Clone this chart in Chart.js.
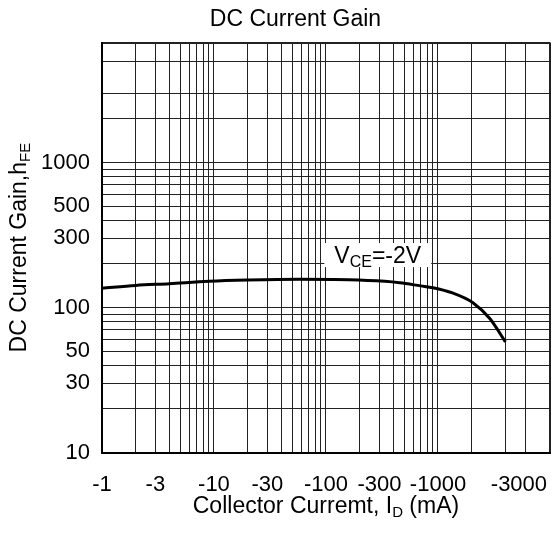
<!DOCTYPE html>
<html>
<head>
<meta charset="utf-8">
<script src="https://cdn.jsdelivr.net/npm/chart.js"></script>
<style>
  html, body { margin: 0; padding: 0; background: #fff; }
  #wrap { width: 552px; height: 533px; }
</style>
</head>
<body>
<div id="wrap"><canvas id="gainChart"></canvas></div>
<script>
  // values (|Ic| in mA, hFE)
  const collectorCurrent = [1, 2, 4, 9, 20, 58, 160, 335, 456, 700, 900, 1350, 2050, 2900, 4000];
  const dcGain = [136, 142, 146, 151.5, 154.5, 156.5, 155.5, 151.5, 148, 141, 137, 126, 108, 84, 58];

  const xLabels = [1, 3, 10, 30, 100, 300, 1000, 3000];
  const xGrid = [1, 2, 3, 4, 5, 6, 7, 8, 9,
                 10, 20, 30, 40, 50, 60, 70, 80, 90,
                 100, 200, 300, 400, 500, 600, 700, 800, 900,
                 1000, 2000, 4000, 6000, 10000];
  const yLabels = [10, 30, 50, 100, 300, 500, 1000];
  const yGrid = [10, 20, 30, 40, 50, 60, 70, 80, 90,
                 100, 200, 300, 400, 500, 600, 700, 800, 900,
                 1000, 2000, 3000, 5000, 6700];
  const xMin = 1, xMax = 10000, yMin = 10, yMax = 6700;

  const curveLabel = { x: 290, y: 230 };
  const family = "'Liberation Sans', Arial, sans-serif";
  Chart.defaults.font.family = family;
  Chart.defaults.color = '#000';

  // draws a run of text pieces (some as subscripts) centred on x
  function richText(ctx, parts, x, y) {
    let total = 0;
    parts.forEach(p => { ctx.font = p.size + 'px ' + family; p.w = ctx.measureText(p.t).width; total += p.w; });
    let cx = x - total / 2;
    parts.forEach(p => {
      ctx.font = p.size + 'px ' + family;
      ctx.fillText(p.t, cx, y + (p.dy || 0));
      cx += p.w;
    });
    return total;
  }

  const labelsPlugin = {
    id: 'labels',
    afterDatasetsDraw(chart) {
      const { ctx, chartArea, scales } = chart;
      ctx.save();
      ctx.fillStyle = '#000';
      ctx.textBaseline = 'alphabetic';
      ctx.textAlign = 'left';

      // V_CE box
      const lx = scales.x.getPixelForValue(curveLabel.x);
      const ly = scales.y.getPixelForValue(curveLabel.y);
      const parts = [{ t: 'V', size: 23 }, { t: 'CE', size: 16, dy: 4 }, { t: '=-2V', size: 23 }];
      let w = 0;
      parts.forEach(p => { ctx.font = p.size + 'px ' + family; w += ctx.measureText(p.t).width; });
      ctx.fillStyle = '#fff';
      ctx.fillRect(lx - w / 2 - 10, ly - 12, w + 20, 24);
      ctx.fillStyle = '#000';
      richText(ctx, parts, lx, ly + 8);

      // x axis title
      const midX = (chartArea.left + chartArea.right) / 2;
      richText(ctx, [
        { t: 'Collector Curremt, I', size: 23 },
        { t: 'D', size: 15, dy: 4 },
        { t: ' (mA)', size: 23 }
      ], midX, chartArea.bottom + 60);

      // y axis title, rotated
      const midY = (chartArea.top + chartArea.bottom) / 2;
      ctx.translate(chartArea.left - 76, midY);
      ctx.rotate(-Math.PI / 2);
      richText(ctx, [
        { t: 'DC Current Gain,h', size: 23 },
        { t: 'FE', size: 15, dy: 4 }
      ], 0, 0);
      ctx.restore();
    }
  };

  const xTicks = Array.from(new Set(xGrid.concat(xLabels))).sort((a, b) => a - b);

  // the last label sits further right in the original, clear of -1000
  const xTickText = v => {
    if (!xLabels.includes(v)) return '';
    return v === xLabels[xLabels.length - 1] ? '         -' + v : '-' + v;
  };

  new Chart(document.getElementById('gainChart'), {
    type: 'line',
    data: {
      datasets: [{
        data: collectorCurrent.map((c, i) => ({ x: c, y: dcGain[i] })),
        borderColor: '#000',
        borderWidth: 3,
        pointRadius: 0,
        cubicInterpolationMode: 'monotone',
        fill: false
      }]
    },
    options: {
      responsive: true,
      maintainAspectRatio: false,
      animation: false,
      layout: { padding: { left: 41, right: 2, top: 0, bottom: 35 } },
      plugins: {
        legend: { display: false },
        tooltip: { enabled: false },
        title: {
          display: true,
          text: 'DC Current Gain',
          color: '#000',
          font: { size: 23, weight: 'normal' },
          padding: { top: 6, bottom: 9 }
        }
      },
      scales: {
        x: {
          type: 'logarithmic',
          min: xMin,
          max: xMax,
          afterBuildTicks: axis => { axis.ticks = xTicks.map(v => ({ value: v })); },
          ticks: {
            autoSkip: false,
            maxRotation: 0,
            padding: 0,
            font: { size: 22 },
            callback: xTickText
          },
          grid: {
            color: c => (c.tick && xGrid.includes(c.tick.value)) ? '#222' : 'rgba(0,0,0,0)',
            drawTicks: true,
            tickLength: 19,
            tickColor: 'rgba(0,0,0,0)',
            lineWidth: c => (c.tick && c.tick.value === xMax) ? 2 : 1
          },
          border: { color: '#000', width: 2 }
        },
        y: {
          type: 'logarithmic',
          min: yMin,
          max: yMax,
          afterBuildTicks: axis => { axis.ticks = yGrid.map(v => ({ value: v })); },
          ticks: {
            autoSkip: false,
            padding: 0,
            font: { size: 22 },
            callback: v => yLabels.includes(v) ? String(v) : ''
          },
          grid: {
            color: '#222',
            drawTicks: true,
            tickLength: 12,
            tickColor: 'rgba(0,0,0,0)',
            lineWidth: c => (c.tick && c.tick.value === yMax) ? 2 : 1
          },
          border: { color: '#000', width: 2 }
        }
      }
    },
    plugins: [labelsPlugin]
  });
</script>
</body>
</html>
